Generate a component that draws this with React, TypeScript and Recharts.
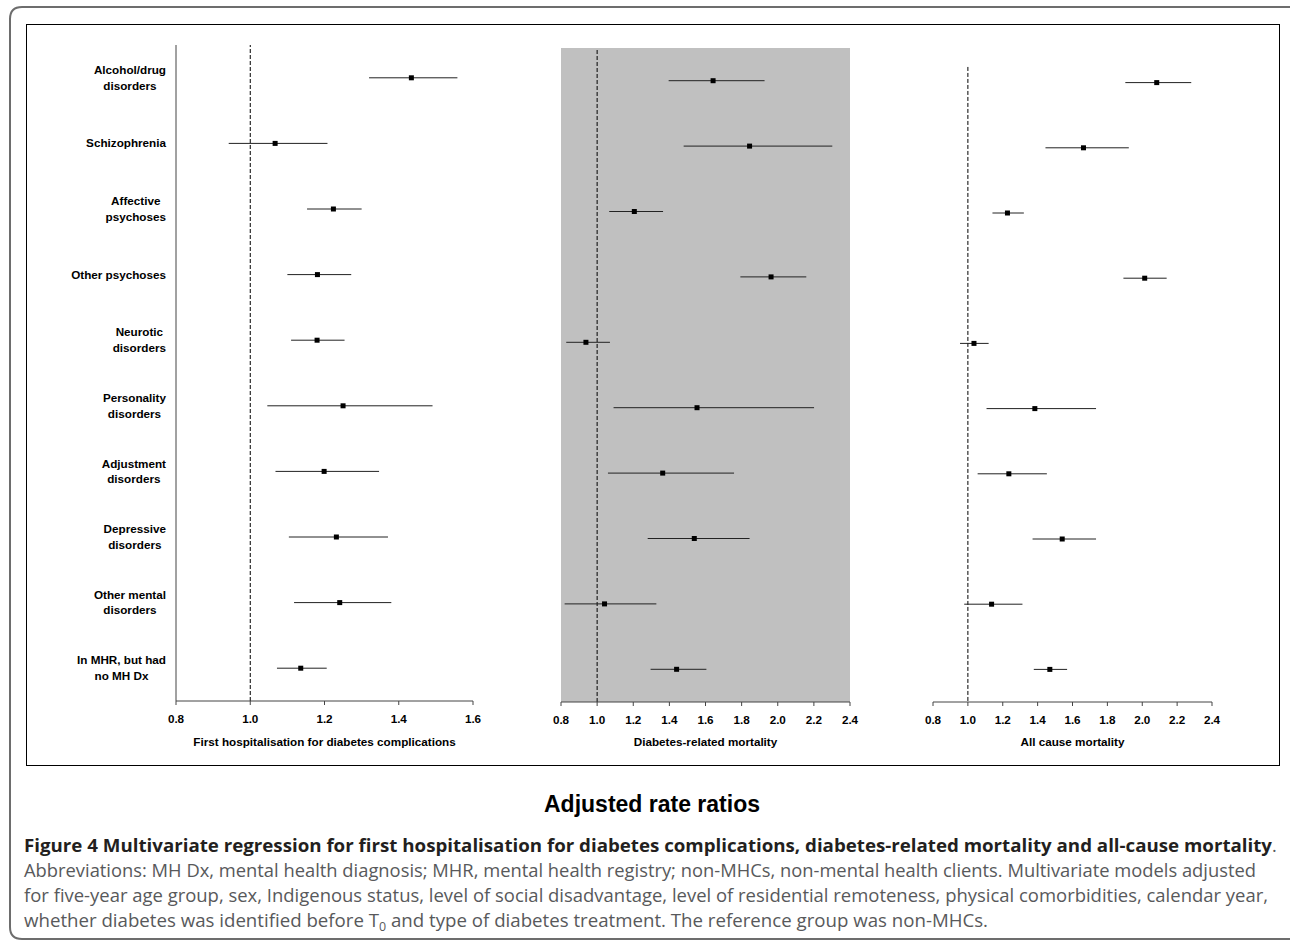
import React from "react"
import {
  CartesianGrid,
  ErrorBar,
  ReferenceLine,
  Scatter,
  ScatterChart,
  XAxis,
  YAxis,
} from "recharts"

// rows, top to bottom
const categoryLines = [
  ["Alcohol/drug", "disorders"],
  ["Schizophrenia"],
  ["Affective", "psychoses"],
  ["Other psychoses"],
  ["Neurotic", "disorders"],
  ["Personality", "disorders"],
  ["Adjustment", "disorders"],
  ["Depressive", "disorders"],
  ["Other mental", "disorders"],
  ["In MHR, but had", "no MH Dx"],
]

// first hospitalisation for diabetes complications
const hospEst = [1.434, 1.067, 1.224, 1.181, 1.18, 1.25, 1.199, 1.232, 1.241, 1.136]
const hospLo = [1.32, 0.942, 1.153, 1.1, 1.11, 1.046, 1.068, 1.104, 1.118, 1.072]
const hospHi = [1.558, 1.208, 1.3, 1.272, 1.254, 1.491, 1.347, 1.371, 1.38, 1.206]

// diabetes-related mortality
const drmEst = [1.642, 1.844, 1.206, 1.963, 0.938, 1.553, 1.363, 1.538, 1.041, 1.44]
const drmLo = [1.396, 1.479, 1.067, 1.793, 0.829, 1.091, 1.06, 1.28, 0.82, 1.296]
const drmHi = [1.927, 2.302, 1.365, 2.158, 1.071, 2.201, 1.758, 1.844, 1.328, 1.605]

// all cause mortality
const acmEst = [2.083, 1.663, 1.227, 2.014, 1.035, 1.384, 1.235, 1.541, 1.136, 1.47]
const acmLo = [1.903, 1.445, 1.141, 1.892, 0.955, 1.107, 1.056, 1.371, 0.979, 1.378]
const acmHi = [2.281, 1.923, 1.321, 2.14, 1.119, 1.735, 1.453, 1.735, 1.313, 1.569]

const hospTicks = [0.8, 1.0, 1.2, 1.4, 1.6]
const mortTicks = [0.8, 1.0, 1.2, 1.4, 1.6, 1.8, 2.0, 2.2, 2.4]

const captionTitle =
  "Figure 4 Multivariate regression for first hospitalisation for diabetes complications, diabetes-related mortality and all-cause mortality"
const captionLines = [
  "Abbreviations: MH Dx, mental health diagnosis; MHR, mental health registry; non-MHCs, non-mental health clients. Multivariate models adjusted",
  "for five-year age group, sex, Indigenous status, level of social disadvantage, level of residential remoteness, physical comorbidities, calendar year,",
]

const rowTicks = categoryLines.map((_, i) => i + 0.5)

const buildRows = (est: number[], lo: number[], hi: number[]) =>
  categoryLines.map((lines, i) => ({
    name: lines.join(" "),
    row: i + 0.5,
    est: est[i],
    err: [est[i] - lo[i], hi[i] - est[i]],
  }))

const FONT = "'Liberation Sans', Arial, sans-serif"
const LABEL_SIZE = 11.7

let ctx: CanvasRenderingContext2D | null = null
function measure(text: string) {
  if (!ctx) {
    ctx = document.createElement("canvas").getContext("2d")
    if (ctx) ctx.font = `700 ${LABEL_SIZE}px ${FONT}`
  }
  return ctx ? ctx.measureText(text).width : text.length * 6.5
}

function CategoryTick(props: any) {
  const { x, y, payload } = props
  const lines = categoryLines[Math.floor(payload.value)] || []
  const w = Math.max(...lines.map(measure))
  const cx = x - w / 2
  return (
    <g>
      {lines.map((l, k) => (
        <text
          key={k}
          x={cx}
          y={y + (k - (lines.length - 1) / 2) * 15.6 + 4}
          textAnchor="middle"
          fontFamily={FONT}
          fontSize={LABEL_SIZE}
          fontWeight={700}
          fill="#000"
        >
          {l}
        </text>
      ))}
    </g>
  )
}

const Square = (props: any) => (
  <rect x={props.cx - 2.5} y={props.cy - 2.5} width={5} height={5} fill="#000" />
)

interface PanelProps {
  left: number
  width: number
  margin: { top: number; right: number; left: number; bottom: number }
  axisHeight: number
  domain: [number, number]
  ticks: number[]
  title: string
  titleOffset: number
  data: ReturnType<typeof buildRows>
  labels?: boolean
  shaded?: boolean
  refFrom?: number
}

function Panel(p: PanelProps) {
  return (
    <div style={{ position: "absolute", left: p.left, top: 0 }}>
      <ScatterChart width={p.width} height={760} margin={p.margin}>
        {p.shaded && (
          <CartesianGrid fill="#c0c0c0" stroke="none" horizontal={false} vertical={false} />
        )}
        <XAxis
          type="number"
          dataKey="est"
          domain={p.domain}
          ticks={p.ticks}
          allowDataOverflow
          height={p.axisHeight}
          tickSize={4}
          tickMargin={10}
          stroke="#444"
          tick={{ fill: "#000", fontSize: LABEL_SIZE, fontWeight: 700, fontFamily: FONT }}
          tickFormatter={(v: number) => v.toFixed(1)}
          label={{
            value: p.title,
            position: "insideBottom",
            offset: p.titleOffset,
            fill: "#000",
            fontSize: LABEL_SIZE,
            fontWeight: 700,
            fontFamily: FONT,
          }}
        />
        <YAxis
          type="number"
          dataKey="row"
          domain={[0, 10]}
          reversed
          ticks={rowTicks}
          interval={0}
          hide={!p.labels}
          width={p.labels ? 176 : 0}
          tickLine={false}
          tickSize={0}
          tickMargin={10}
          stroke="#444"
          tick={<CategoryTick />}
        />
        {p.refFrom !== undefined ? (
          <ReferenceLine
            segment={[
              { x: 1, y: p.refFrom },
              { x: 1, y: 10 },
            ]}
            stroke="#000"
            strokeDasharray="4 2"
          />
        ) : (
          <ReferenceLine x={1} stroke="#000" strokeDasharray="4 2" />
        )}
        <Scatter data={p.data} shape={<Square />} isAnimationActive={false}>
          <ErrorBar
            dataKey="err"
            direction="x"
            width={0}
            stroke="#222"
            strokeWidth={1}
            isAnimationActive={false}
          />
        </Scatter>
      </ScatterChart>
    </div>
  )
}

export default function App() {
  const capFont = "'Open Sans', 'Noto Sans', sans-serif"
  const capSize = 18
  return (
    <div style={{ position: "absolute", left: 0, top: 0, width: 1290, height: 943, background: "#fff" }}>
      <svg width={1290} height={943} style={{ position: "absolute", left: 0, top: 0 }}>
        <path
          d="M 1292 7 L 22 7 Q 10 7 10 19 L 10 927 Q 10 939 22 939 L 1292 939"
          fill="none"
          stroke="#6d6d6d"
          strokeWidth={2}
        />
        <rect x={26.5} y={24.5} width={1253} height={741} fill="none" stroke="#000" strokeWidth={1} />
        <text x={652} y={812} textAnchor="middle" fontFamily={FONT} fontWeight={700} fontSize={23} fill="#000">
          Adjusted rate ratios
        </text>
        <text
          x={24}
          y={852}
          fontFamily={capFont}
          fontWeight={700}
          fontSize={capSize}
          fill="#231f20"
          textLength={1248}
          lengthAdjust="spacingAndGlyphs"
        >
          {captionTitle}
        </text>
        <text x={1272} y={852} fontFamily={capFont} fontSize={capSize} fill="#58595b">
          .
        </text>
        {captionLines.map((l, i) => (
          <text
            key={i}
            x={24}
            y={877 + i * 25}
            fontFamily={capFont}
            fontSize={capSize}
            fill="#58595b"
            textLength={i === 0 ? 1232 : 1244}
            lengthAdjust="spacingAndGlyphs"
          >
            {l}
          </text>
        ))}
        <text
          x={24}
          y={927}
          fontFamily={capFont}
          fontSize={capSize}
          fill="#58595b"
          textLength={964}
          lengthAdjust="spacingAndGlyphs"
        >
          whether diabetes was identified before T
          <tspan dy={4} fontSize={12}>
            0
          </tspan>
          <tspan dy={-4}> and type of diabetes treatment. The reference group was non-MHCs.</tspan>
        </text>
      </svg>

      <Panel
        left={0}
        width={500}
        margin={{ top: 45, right: 27, left: 0, bottom: 0 }}
        axisHeight={59}
        domain={[0.8, 1.6]}
        ticks={hospTicks}
        title="First hospitalisation for diabetes complications"
        titleOffset={14}
        data={buildRows(hospEst, hospLo, hospHi)}
        labels
      />
      <Panel
        left={540}
        width={330}
        margin={{ top: 48, right: 20, left: 21, bottom: 0 }}
        axisHeight={58}
        domain={[0.8, 2.4]}
        ticks={mortTicks}
        title="Diabetes-related mortality"
        titleOffset={14}
        data={buildRows(drmEst, drmLo, drmHi)}
        shaded
      />
      <Panel
        left={900}
        width={340}
        margin={{ top: 50, right: 28, left: 33, bottom: 0 }}
        axisHeight={58}
        domain={[0.8, 2.4]}
        ticks={mortTicks}
        title="All cause mortality"
        titleOffset={14}
        data={buildRows(acmEst, acmLo, acmHi)}
        refFrom={0.26}
      />
    </div>
  )
}
